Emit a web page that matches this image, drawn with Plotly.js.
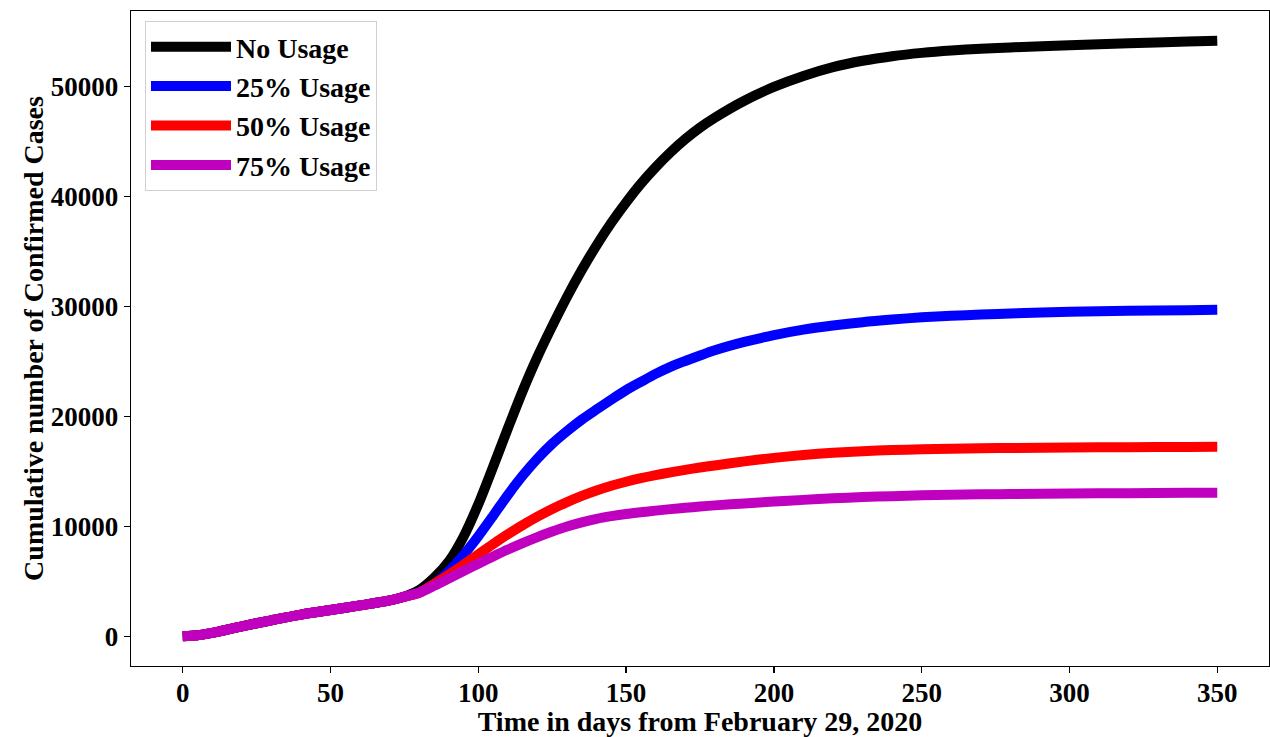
<!DOCTYPE html>
<html>
<head>
<meta charset="utf-8">
<script src="https://cdn.plot.ly/plotly-3.0.1.min.js"></script>
<style>html,body{margin:0;padding:0;background:#fff;}#chart{width:1270px;height:737px;}</style>
</head>
<body>
<div id="chart"></div>
<script>
const days = [0,5,10,20,30,40,50,60,70,75,80,85,90,95,100,105,110,115,120,125,130,135,140,145,150,155,160,165,170,175,180,190,200,210,220,230,240,250,260,270,280,300,320,340,350];

const early = [0,80,300,900,1450,1970,2380,2800,3250,3600];

const noUsage = early.concat([4200,5300,6800,9050,12000,15400,18900,22300,25400,28200,30850,33300,35550,37600,39450,41150,42650,44000,45200,46250,47150,48700,49950,50950,51750,52330,52750,53050,53270,53430,53550,53750,53930,54080,54150]);

const usage25 = early.concat([4000,4750,5900,7400,9100,10950,12850,14600,16150,17500,18650,19700,20620,21520,22380,23130,23860,24500,25030,25530,26000,26760,27380,27880,28250,28560,28800,29000,29140,29250,29350,29500,29590,29650,29680]);

const usage50 = early.concat([3950,4750,5600,6500,7450,8380,9270,10100,10870,11570,12200,12760,13250,13680,14050,14370,14650,14900,15130,15340,15530,15900,16220,16480,16680,16830,16930,17000,17050,17090,17120,17160,17190,17210,17220]);

const usage75 = early.concat([3950,4580,5250,5930,6600,7250,7880,8470,9020,9520,9980,10360,10680,10920,11120,11280,11420,11560,11680,11790,11900,12080,12250,12400,12540,12650,12740,12810,12860,12900,12930,12980,13010,13040,13050]);

const seriesNames = ['No Usage','25% Usage','50% Usage','75% Usage'];
const seriesColors = ['#000000','#0000ff','#ff0000','#bf00bf'];
const seriesValues = [noUsage, usage25, usage50, usage75];

const xTicks = [0,50,100,150,200,250,300,350];
const yTicks = [0,10000,20000,30000,40000,50000];

const FONT = '"Liberation Serif", "Times New Roman", serif';

const traces = seriesValues.map((vals, i) => ({
  type: 'scatter',
  mode: 'lines',
  x: days,
  y: vals,
  name: '<b>' + seriesNames[i] + '</b>',
  line: {color: seriesColors[i], width: 10, shape: 'spline', smoothing: 0.8},
  hoverinfo: 'x+y'
}));

const layout = {
  width: 1270,
  height: 737,
  margin: {l: 131, r: 1, t: 11, b: 71},
  paper_bgcolor: '#ffffff',
  plot_bgcolor: '#ffffff',
  font: {family: FONT, color: '#000000'},
  showlegend: true,
  legend: {
    x: 0.0123, y: 0.9847, xanchor: 'left', yanchor: 'top',
    bgcolor: 'rgba(255,255,255,0.8)', bordercolor: '#d0d0d0', borderwidth: 1,
    font: {family: FONT, size: 28, color: '#000000'},
    itemwidth: 80
  },
  xaxis: {
    range: [-17.5, 367.5],
    tickvals: xTicks,
    ticktext: xTicks.map(v => '<b>' + v + '</b>'),
    ticks: 'outside', ticklen: 6, tickwidth: 1.3, tickcolor: '#000',
    ticklabelstandoff: -4,
    showline: true, linecolor: '#000', linewidth: 1.3, mirror: true,
    showgrid: false, zeroline: false,
    tickfont: {family: FONT, size: 27, color: '#000'},
    title: {text: '<b>Time in days from February 29, 2020</b>', font: {family: FONT, size: 28, color: '#000'}}
  },
  yaxis: {
    range: [-2708, 56858],
    tickvals: yTicks,
    ticktext: yTicks.map(v => '<b>' + v + '</b>'),
    ticks: 'outside', ticklen: 6, tickwidth: 1.3, tickcolor: '#000',
    showline: true, linecolor: '#000', linewidth: 1.3, mirror: true,
    showgrid: false, zeroline: false,
    tickfont: {family: FONT, size: 27, color: '#000'},
    title: {text: '<b>Cumulative number of Confirmed Cases</b>', font: {family: FONT, size: 28, color: '#000'}}
  }
};

Plotly.newPlot('chart', traces, layout, {displayModeBar: false, staticPlot: true});
</script>
</body>
</html>
